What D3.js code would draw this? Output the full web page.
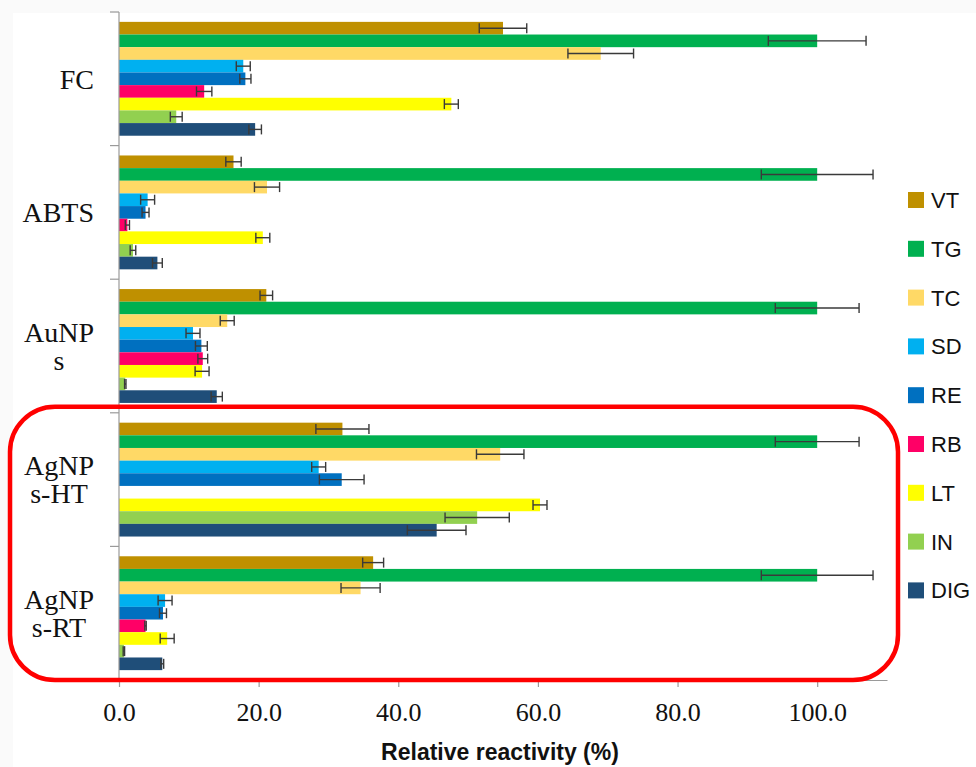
<!DOCTYPE html>
<html>
<head>
<meta charset="utf-8">
<script src="https://cdn.jsdelivr.net/npm/d3@7"></script>
<style>
  html, body { margin: 0; padding: 0; background: #fafafa; }
  svg { display: block; }
</style>
</head>
<body>
<svg id="chart" width="976" height="767"></svg>
<script>
// Assays (groups on the y axis), top to bottom
const categories = ["FC", "ABTS", "AuNPs", "AgNPs-HT", "AgNPs-RT"];
// Wrapped label lines for each assay
const categoryLines = [["FC"], ["ABTS"], ["AuNP", "s"], ["AgNP", "s-HT"], ["AgNP", "s-RT"]];

// Samples (one bar each inside a group)
const seriesNames = ["VT", "TG", "TC", "SD", "RE", "RB", "LT", "IN", "DIG"];
const seriesColors = ["#bf9000", "#00b050", "#ffd966", "#00b0f0", "#0070c0", "#ff0066", "#ffff00", "#92d050", "#1f4e79"];

// Relative reactivity (%) per sample, in the order of `categories`
const VT  = [55.0, 16.4, 21.1, 32.0, 36.4];
const TG  = [100, 100, 100, 100, 100];
const TC  = [69.0, 21.2, 15.5, 54.6, 34.6];
const SD  = [17.8, 4.1, 10.6, 28.6, 6.6];
const RE  = [18.1, 3.8, 11.8, 31.9, 6.3];
const RB  = [12.2, 1.2, 12.0, 0, 3.8];
const LT  = [47.6, 20.6, 11.9, 60.3, 6.9];
const IN  = [8.2, 2.0, 0.9, 51.3, 0.7];
const DIG = [19.5, 5.5, 14.0, 45.5, 6.2];

// Standard deviations
const VT_err  = [3.4, 1.1, 0.9, 3.8, 1.5];
const TG_err  = [7.0, 8.0, 6.0, 6.0, 8.0];
const TC_err  = [4.7, 1.8, 1.0, 3.4, 2.8];
const SD_err  = [1.0, 1.0, 1.0, 1.0, 1.0];
const RE_err  = [0.8, 0.5, 0.85, 3.2, 0.5];
const RB_err  = [1.1, 0.3, 0.7, 0, 0.1];
const LT_err  = [1.0, 1.0, 1.0, 1.0, 1.0];
const IN_err  = [0.85, 0.4, 0.1, 4.6, 0.1];
const DIG_err = [0.9, 0.7, 0.8, 4.2, 0.2];

// Axis ticks
const xTicks = [0, 20, 40, 60, 80, 100];
const xTitle = "Relative reactivity (%)";

const seriesValues = [VT, TG, TC, SD, RE, RB, LT, IN, DIG];
const seriesErrors = [VT_err, TG_err, TC_err, SD_err, RE_err, RB_err, LT_err, IN_err, DIG_err];

const rows = [];
categories.forEach((cat, ci) => {
  seriesNames.forEach((s, si) => {
    rows.push({ cat, series: s, color: seriesColors[si], value: seriesValues[si][ci], err: seriesErrors[si][ci] });
  });
});

const svg = d3.select("#chart");

// white plotting sheet
svg.append("rect").attr("x", 13).attr("y", 13).attr("width", 963).attr("height", 754).attr("fill", "#ffffff");

const x = d3.scaleLinear().domain([0, 110]).range([119, 887]);
const y = d3.scaleBand().domain(categories).range([12, 680]).padding(0);
const yInner = d3.scaleBand().domain(seriesNames).range([0, y.bandwidth()]).paddingInner(0).paddingOuter(0.78);

// bars
const bars = svg.append("g");
bars.selectAll("rect")
  .data(rows)
  .join("rect")
  .attr("x", x(0))
  .attr("y", d => y(d.cat) + yInner(d.series))
  .attr("width", d => x(d.value) - x(0))
  .attr("height", yInner.bandwidth())
  .attr("fill", d => d.color);

// error bars
const errG = svg.append("g").attr("stroke", "#3a3a3a").attr("stroke-width", 1.4).attr("fill", "none");
const errRows = rows.filter(d => d.value > 0);
errRows.forEach(d => {
  const cy = y(d.cat) + yInner(d.series) + yInner.bandwidth() / 2;
  const x0 = x(Math.max(0, d.value - d.err)), x1 = x(d.value + d.err);
  const h = 5;
  errG.append("line").attr("x1", x0).attr("x2", x1).attr("y1", cy).attr("y2", cy);
  errG.append("line").attr("x1", x0).attr("x2", x0).attr("y1", cy - h).attr("y2", cy + h);
  errG.append("line").attr("x1", x1).attr("x2", x1).attr("y1", cy - h).attr("y2", cy + h);
});

// y axis: line and group-boundary ticks
const yAxisG = svg.append("g").attr("stroke", "#9a9a9a").attr("stroke-width", 1.2);
yAxisG.append("line").attr("x1", x(0)).attr("x2", x(0)).attr("y1", y.range()[0]).attr("y2", y.range()[1]);
const bounds = categories.map(c => y(c)).concat([y.range()[1]]);
yAxisG.selectAll("line.tk").data(bounds).join("line").attr("class", "tk")
  .attr("x1", x(0) - 9).attr("x2", x(0)).attr("y1", d => d).attr("y2", d => d);

// category labels: lines centred among themselves, block right-aligned
const labelRight = 94;
const lineH = 28;
categories.forEach((cat, ci) => {
  const lines = categoryLines[ci];
  const g = svg.append("g");
  const cy = y(cat) + y.bandwidth() / 2;
  const t = g.append("text")
    .attr("font-family", "'Liberation Serif', 'Times New Roman', serif")
    .attr("font-size", 28)
    .attr("fill", "#111")
    .attr("text-anchor", "middle");
  lines.forEach((ln, li) => {
    t.append("tspan").attr("x", 0)
      .attr("y", cy + (li - (lines.length - 1) / 2) * lineH)
      .attr("dy", "0.35em")
      .text(ln);
  });
  const bb = t.node().getBBox();
  g.attr("transform", `translate(${labelRight - bb.width / 2},0)`);
});

// x axis
const xAxis = d3.axisBottom(x).tickValues(xTicks).tickFormat(d3.format(".1f")).tickSize(7).tickPadding(16).tickSizeOuter(0);
const xg = svg.append("g").attr("transform", `translate(0,${y.range()[1]})`).call(xAxis);
xg.select(".domain").attr("stroke", "#9a9a9a").attr("stroke-width", 1.2);
xg.selectAll(".tick line").attr("stroke", "#9a9a9a").attr("stroke-width", 1.2);
xg.selectAll(".tick text")
  .attr("font-family", "'Liberation Serif', 'Times New Roman', serif")
  .attr("font-size", 26)
  .attr("fill", "#111");

svg.append("text")
  .attr("x", 500).attr("y", 760)
  .attr("text-anchor", "middle")
  .attr("font-family", "'Liberation Sans', Arial, sans-serif")
  .attr("font-weight", "bold")
  .attr("font-size", 23)
  .attr("fill", "#111")
  .text(xTitle);

// legend
const legend = svg.append("g");
seriesNames.forEach((s, i) => {
  const cy = 200 + i * 48.8;
  legend.append("rect").attr("x", 908).attr("y", cy - 8).attr("width", 16).attr("height", 16).attr("fill", seriesColors[i]);
  legend.append("text").attr("x", 931).attr("y", cy).attr("dy", "0.36em")
    .attr("font-family", "'Liberation Sans', Arial, sans-serif")
    .attr("font-size", 22).attr("fill", "#111").text(s);
});

// highlight around the two silver-nanoparticle assays
const hlTop = y("AgNPs-HT") - 6;
svg.append("rect")
  .attr("x", 10).attr("y", hlTop)
  .attr("width", 888).attr("height", y.range()[1] - hlTop)
  .attr("rx", 45).attr("ry", 45)
  .attr("fill", "none").attr("stroke", "#ff0000").attr("stroke-width", 4.5);
</script>
</body>
</html>
